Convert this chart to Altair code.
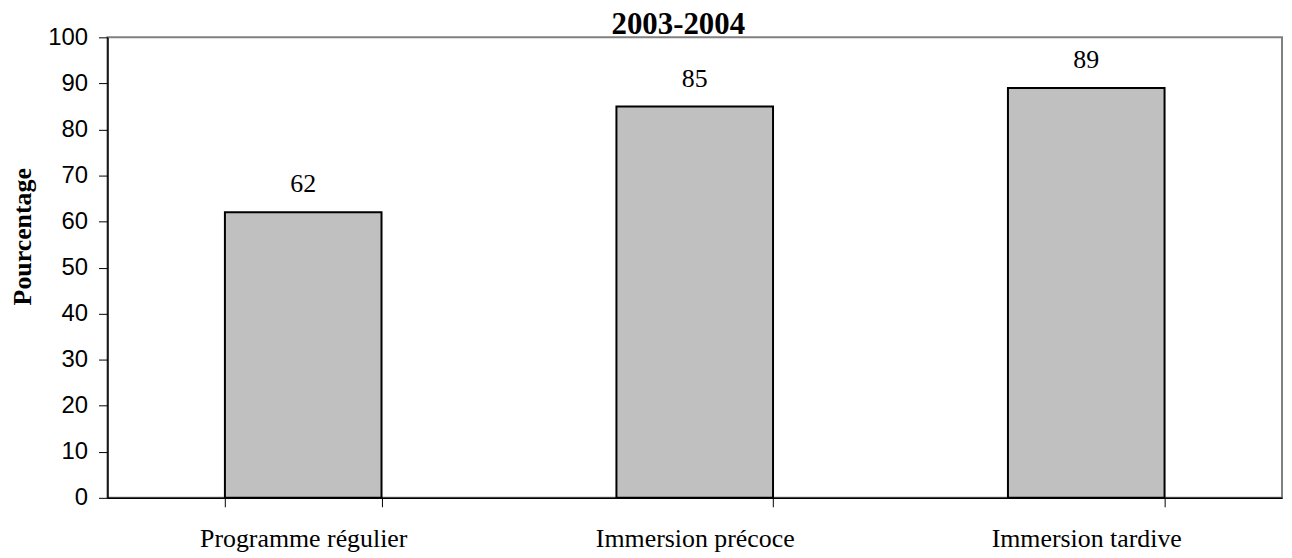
import altair as alt
import pandas as pd

categories = ["Programme régulier", "Immersion précoce", "Immersion tardive"]
values = [62, 85, 89]
title_text = ["2003-2004"]
y_title = "Pourcentage"

df = pd.DataFrame({"cat": categories, "val": values})
tdf = pd.DataFrame({"t": title_text})

base = alt.Chart(df)

x_enc = alt.X(
    "cat:N",
    sort=categories,
    scale=alt.Scale(paddingInner=0.6, paddingOuter=0.3),
    axis=alt.Axis(
        title=None,
        labelAngle=0,
        labelFont="Liberation Serif",
        labelFontSize=26,
        labelColor="black",
        labelPadding=19,
        labelLimit=0,
        tickBand="extent",
        tickSize=9,
        tickColor="black",
        domainColor="black",
        domainWidth=1.5,
    ),
)

y_enc = alt.Y(
    "val:Q",
    scale=alt.Scale(domain=[0, 100]),
    axis=alt.Axis(
        title=y_title,
        values=list(range(0, 101, 10)),
        labelFont="Liberation Sans",
        labelFontSize=24,
        labelColor="black",
        labelPadding=11,
        tickSize=9,
        tickColor="black",
        domainColor="black",
        domainWidth=1.5,
        grid=False,
        titleFont="Liberation Serif",
        titleFontWeight="bold",
        titleFontSize=26,
        titleColor="black",
        titleAngle=270,
        titleAlign="center",
        titleBaseline="middle",
        titleX=-85,
        titleY=200,
    ),
)

bars = base.mark_bar(color="#c0c0c0", stroke="black", strokeWidth=2).encode(
    x=x_enc, y=y_enc
)

labels = base.mark_text(
    font="Liberation Serif", fontSize=26, color="black", baseline="alphabetic", dy=-20
).encode(
    x=alt.X("cat:N", sort=categories),
    y=alt.Y("val:Q"),
    text=alt.Text("val:Q"),
)

title = alt.Chart(tdf).mark_text(
    font="Liberation Serif",
    fontSize=31,
    fontWeight="bold",
    color="black",
    align="center",
    baseline="alphabetic",
).encode(
    x=alt.value(574),
    y=alt.value(-3),
    text="t:N",
)

chart = (
    alt.layer(bars, labels, title)
    .properties(
        width=1181,
        height=463,
        autosize=alt.AutoSizeParams(type="none"),
        padding={"left": 100, "top": 28, "right": 2, "bottom": 58},
    )
    .configure(background="white")
    .configure_view(stroke="#808080", strokeWidth=2)
)

chart.save("out.html", embed_options={"renderer": "svg", "actions": False})
